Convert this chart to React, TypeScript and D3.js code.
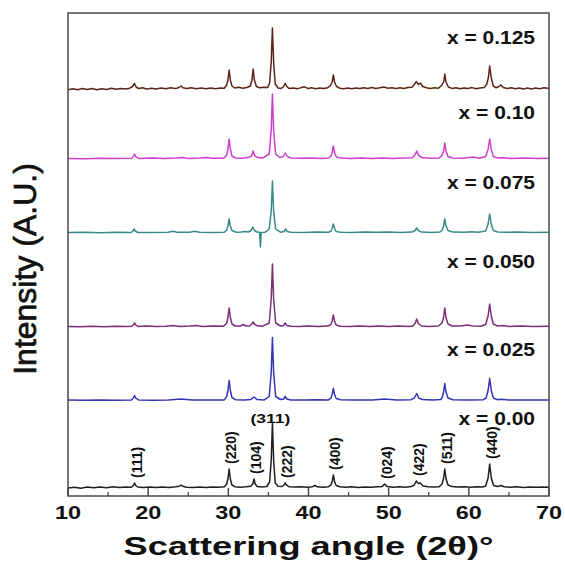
import React from 'react';
import * as d3 from 'd3';

// XRD patterns, x = 0.00 ... 0.125, stacked with an offset (A.U.)
const sampleLabels = ['x = 0.00', 'x = 0.025', 'x = 0.050', 'x = 0.075', 'x = 0.10', 'x = 0.125'];
const sampleColors = ['#1f1f1f', '#3434b6', '#7c2e7b', '#378a87', '#cf3fcf', '#5c2417'];
const sampleOffsets = [8, 95.5, 169, 263, 337, 406];
const labelLevels = [77, 146, 234, 313, 383, 458];

// [2theta, intensity]
const x000: [number, number][] = [[10,0],[10.8,0.8],[11.6,-0.3],[12.4,0.9],[13.2,0.2],[14,1],[14.8,0.3],[15.6,1.2],[16.4,0.4],[17.2,1],[17.9,0.8],[18.15,2.5],[18.3,5],[18.45,2.5],[18.7,1],[19.4,0.5],[20.2,1.1],[21,0.4],[21.8,1],[22.6,0.6],[23.4,1.2],[23.9,1.8],[24.1,3],[24.3,1.8],[24.8,0.8],[25.6,0.4],[26.4,1],[27.2,0.5],[28,1],[28.8,0.8],[29.5,1.2],[29.8,4],[29.95,9],[30.1,19],[30.25,9],[30.45,3],[30.8,1.3],[31.5,0.7],[32.2,1.2],[32.8,1.8],[33.05,4],[33.2,9],[33.35,4],[33.6,1.5],[34.2,1],[34.8,1.5],[35.15,6],[35.35,28],[35.5,65],[35.65,28],[35.85,5],[36.2,1.8],[36.7,1.5],[36.95,3],[37.1,5],[37.25,3],[37.55,1.3],[38.3,1],[39.1,1.2],[39.9,0.8],[40.5,1.3],[40.8,2.5],[41.1,1.2],[41.8,0.8],[42.5,1.3],[42.8,3],[42.95,6.5],[43.1,13],[43.25,6.5],[43.45,2.5],[43.9,1.2],[44.6,0.8],[45.4,1.3],[46.2,0.6],[47,1.1],[47.8,0.7],[48.6,1.2],[49.2,1.6],[49.5,4],[49.8,1.6],[50.5,0.8],[51.3,1.2],[52.1,0.8],[52.8,1.4],[53.2,3],[53.45,7],[53.7,4.5],[53.95,5],[54.3,2],[54.9,1.2],[55.6,1],[56.3,1.3],[56.65,4],[56.85,9.5],[57,19],[57.15,9.5],[57.4,3],[57.9,1.4],[58.6,1],[59.4,1.2],[60.2,0.8],[61,1.3],[61.7,1],[62.1,2],[62.4,10],[62.6,24],[62.8,10],[63.1,2.5],[63.6,1.5],[64,2.5],[64.4,1.2],[65.2,0.8],[66,1.2],[66.8,0.6],[67.6,1.1],[68.4,0.7],[69.2,1],[70,0.8]];

const x025: [number, number][] = [[10,0.5],[12,0.2],[14,0.6],[16,0.3],[17.9,0.5],[18.15,2.5],[18.3,5],[18.45,2.5],[18.8,0.6],[20.5,0.3],[22.5,0.6],[24.1,1.5],[25.5,0.4],[27.5,0.6],[29.5,0.6],[29.8,4],[29.95,10],[30.1,20],[30.25,10],[30.45,3],[30.9,0.8],[32,0.5],[32.8,0.9],[33.2,3.5],[33.6,0.9],[34.5,0.6],[35.1,4],[35.35,28],[35.5,63],[35.65,28],[35.9,4],[36.5,1],[36.9,1.5],[37.1,4],[37.3,1.5],[37.8,0.6],[39.5,0.5],[41,0.8],[42.5,0.6],[42.8,2.5],[42.95,6],[43.1,12],[43.25,6],[43.45,2],[44,0.7],[46,0.4],[48,0.6],[49.5,1.5],[51,0.5],[52.8,0.8],[53.2,2.5],[53.5,7],[53.75,2.5],[54.2,1],[55.5,0.5],[56.5,1],[56.7,3.5],[56.85,8.5],[57,17],[57.15,8.5],[57.4,2.5],[58,0.8],[60,0.5],[61.8,0.8],[62.15,2.5],[62.4,10],[62.6,22],[62.8,10],[63.05,2.5],[63.6,0.8],[64,1.2],[65,0.5],[67,0.6],[70,0.4]];

const x050: [number, number][] = [[10,0.6],[11.5,0.2],[13,0.8],[14.5,0.3],[16,0.7],[17.3,0.4],[17.95,0.8],[18.15,2],[18.3,4],[18.45,2],[18.7,0.6],[19.8,0.9],[21,0.4],[22.2,0.8],[23.1,1.5],[24,0.6],[25.2,1],[26,1.6],[26.8,0.6],[28,0.9],[29.4,0.7],[29.8,4],[29.95,9.5],[30.1,19],[30.25,9.5],[30.45,3],[30.9,1],[31.5,0.9],[31.85,2.5],[32.2,1],[32.7,1.2],[32.95,3],[33.1,5],[33.25,3],[33.6,1.2],[34.3,0.8],[35.1,4],[35.35,28],[35.5,63],[35.65,28],[35.9,4],[36.5,1],[36.9,1.6],[37.1,4],[37.3,1.6],[37.8,0.8],[38.8,0.5],[40,0.9],[41.2,0.6],[42.4,0.9],[42.8,2.5],[42.95,6],[43.1,12],[43.25,6],[43.45,2],[44,0.8],[45.2,0.5],[46.4,0.9],[47.6,0.5],[48.8,0.9],[50,0.6],[51.2,0.9],[52.4,0.5],[53,1],[53.3,3.5],[53.5,8],[53.7,3.5],[54.1,1],[55,0.6],[56.2,1],[56.65,4],[56.85,9.5],[57,19],[57.15,9.5],[57.4,3],[57.9,1],[59,0.9],[59.8,2],[60.5,1],[61.5,0.8],[62.1,2.5],[62.4,11],[62.6,23],[62.8,11],[63.05,3],[63.6,1],[64.2,1.4],[65,0.6],[66.5,0.9],[68,0.5],[70,0.8]];

const x075: [number, number][] = [[10,0.5],[12,0.8],[14,0.3],[16,0.7],[17.9,0.6],[18.1,2],[18.25,4],[18.4,2],[18.7,0.5],[20.5,0.6],[22.5,0.8],[23.1,1.8],[23.6,0.7],[25.2,0.8],[25.8,1.8],[26.4,0.7],[28,0.6],[29.5,0.7],[29.8,3],[29.95,7],[30.1,14],[30.25,7],[30.45,2.5],[31,0.8],[31.6,1],[32.1,1.6],[32.5,1],[32.85,2.5],[33.05,6],[33.25,2.5],[33.6,1],[33.9,0.8],[34,-14],[34.1,0.5],[34.6,0.8],[35.1,4],[35.35,22],[35.5,52],[35.65,22],[35.9,4],[36.5,0.8],[36.95,1.5],[37.15,4],[37.35,1.5],[37.8,0.8],[39.5,0.6],[41,0.9],[42.5,0.7],[42.8,2],[42.95,4.5],[43.1,9],[43.25,4.5],[43.45,1.6],[44,0.8],[45.5,0.6],[47,1],[48.5,0.7],[50,0.9],[51.5,0.6],[52.9,0.9],[53.3,2.5],[53.5,5],[53.7,2.5],[54.1,0.9],[55.3,0.6],[56.4,1],[56.7,3],[56.85,7],[57,14],[57.15,7],[57.4,2.5],[58,0.9],[59.5,0.7],[60.3,1.2],[61.2,0.7],[62.1,2],[62.4,9],[62.6,19],[62.8,9],[63.05,2.5],[63.6,1],[64.5,0.7],[66,0.9],[68,0.6],[70,0.8]];

const x100: [number, number][] = [[10,0.6],[12,0.3],[14,0.8],[16,0.4],[17.9,0.7],[18.15,2.5],[18.3,5],[18.45,2.5],[18.8,0.6],[20.5,0.9],[22,0.4],[23.5,0.9],[24.3,1.5],[25,0.6],[26.5,1],[27.3,1.6],[28,0.7],[29.4,0.8],[29.8,4],[29.95,10],[30.1,20],[30.25,10],[30.45,3],[30.9,1],[31.7,0.8],[32.4,1.4],[32.9,3],[33.1,8],[33.3,3],[33.7,1.4],[34.3,1],[35.1,5],[35.35,29],[35.5,65],[35.65,29],[35.9,5],[36.4,1.5],[36.85,2.5],[37.1,6],[37.35,2.5],[37.8,1],[39,0.7],[40.3,1],[41.6,0.6],[42.5,1],[42.8,3],[42.95,6.5],[43.1,13],[43.25,6.5],[43.45,2.2],[44,0.9],[45.3,0.6],[46.6,1],[47.9,0.6],[49.2,0.9],[50.5,0.6],[51.8,1],[52.9,1.2],[53.25,3.5],[53.5,8],[53.75,3.5],[54.2,1.2],[55.3,0.7],[56.3,1.1],[56.65,3.5],[56.85,8],[57,16],[57.15,8],[57.4,2.5],[58,1],[59.3,0.8],[60.5,2],[61.3,0.8],[62.1,2.5],[62.4,9.5],[62.6,20],[62.8,9.5],[63.05,2.5],[63.6,1],[64.3,1.2],[65.2,0.6],[67,0.9],[68.5,0.5],[70,0.8]];

const x125: [number, number][] = [[10,0.3],[10.6,1.2],[11.2,0.2],[11.8,1.4],[12.4,0.5],[13,1.5],[13.6,0.3],[14.2,1.2],[14.8,0.6],[15.4,1.8],[16,0.7],[16.6,1.5],[17.2,0.9],[17.7,1.8],[18.05,3.5],[18.3,6.5],[18.5,3],[18.8,1.5],[19.3,2.2],[19.8,1],[20.4,1.8],[21,1],[21.6,2],[22.2,1.2],[22.8,2.3],[23.4,1.4],[23.85,2.5],[24.1,4],[24.35,2.2],[24.8,1.5],[25.4,2.3],[26,1.2],[26.6,2],[27.2,1.3],[27.8,2.1],[28.4,1.2],[29,1.9],[29.5,1.8],[29.8,5],[29.95,10],[30.1,20],[30.25,10],[30.45,4],[30.8,2],[31.3,2.8],[31.8,1.8],[32.3,2.5],[32.75,4],[32.95,10],[33.1,21],[33.25,10],[33.5,3.5],[33.9,2.2],[34.4,2.8],[34.9,2.4],[35.15,7],[35.35,28],[35.5,62],[35.65,28],[35.85,6],[36.2,2],[36.6,1.6],[36.9,3.5],[37.1,6.5],[37.3,3.5],[37.6,1.4],[38.1,2],[38.6,1.2],[39.1,2.4],[39.5,3.2],[39.9,1.6],[40.4,2.2],[40.9,1.3],[41.4,2],[41.9,1.5],[42.4,2.3],[42.75,4.5],[42.95,8],[43.1,15],[43.25,8],[43.5,3.5],[43.9,1.8],[44.4,1.2],[44.9,2],[45.4,1.2],[45.9,1.9],[46.4,1.4],[46.9,2.2],[47.4,1.5],[47.9,2.4],[48.4,1.6],[48.9,2.2],[49.4,3],[49.9,1.8],[50.4,2.3],[50.9,1.5],[51.4,2.2],[51.9,1.6],[52.4,2.5],[52.9,2.8],[53.2,5.5],[53.45,8.5],[53.7,5.5],[53.95,7],[54.25,3.5],[54.7,2.2],[55.2,1.5],[55.7,2.3],[56.2,1.8],[56.6,4.5],[56.85,8],[57,16],[57.15,8],[57.45,3],[57.9,1.6],[58.4,2.2],[58.9,1.3],[59.4,2],[59.9,1.4],[60.4,2.4],[60.9,1.3],[61.4,2],[61.9,2.4],[62.25,6],[62.45,13],[62.6,24],[62.8,12],[63.05,4],[63.4,2.2],[63.75,3.5],[64,5],[64.3,2.5],[64.8,1.5],[65.3,2.3],[65.8,1.2],[66.3,2],[66.8,1],[67.3,1.9],[67.8,1.1],[68.3,2],[68.8,1.3],[69.4,2.2],[70,1.4]];

const patterns = [x000, x025, x050, x075, x100, x125];

// Miller indices of the reflections marked on the x = 0.00 pattern
const hklNames = ['(111)', '(220)', '(104)', '(311)', '(222)', '(400)', '(024)', '(422)', '(511)', '(440)'];
const hklAngles = [18.3, 30.1, 33.2, 35.5, 37.1, 43.1, 49.5, 53.5, 57.0, 62.6];

const xTicks = [10, 20, 30, 40, 50, 60, 70];

const W = 565;
const H = 561;
const margin = { top: 13, right: 16, bottom: 65, left: 68 };
const font = 'Liberation Sans, Arial, sans-serif';

export default function App() {
  const innerW = W - margin.left - margin.right;
  const innerH = H - margin.top - margin.bottom;

  const x = d3.scaleLinear().domain([10, 70]).range([margin.left, margin.left + innerW]);
  const y = d3.scaleLinear().domain([0, 483]).range([margin.top + innerH, margin.top]);

  const minorTicks = x.ticks(12).filter((t) => t % 10 !== 0);
  const bottom = margin.top + innerH;

  const peakAt = (a: number) =>
    d3.max(x000.filter((d) => Math.abs(d[0] - a) < 0.3), (d) => d[1]) || 0;

  return (
    <svg width={W} height={H} style={{ position: 'absolute', left: 0, top: 0, background: '#fff' }}>
      <g fill="none" strokeWidth={1.5} strokeLinejoin="round">
        {patterns.map((p, i) => {
          const line = d3.line<[number, number]>()
            .x((d) => x(d[0]))
            .y((d) => y(d[1] + sampleOffsets[i]));
          return <path key={i} d={line(p) || ''} stroke={sampleColors[i]} />;
        })}
      </g>

      {/* frame */}
      <rect x={margin.left} y={margin.top} width={innerW} height={innerH}
        fill="none" stroke="#4a4a4a" strokeWidth={1.5} />

      {/* ticks pointing inwards */}
      {xTicks.map((t) => (
        <line key={'M' + t} x1={x(t)} x2={x(t)} y1={bottom} y2={bottom - 8} stroke="#4a4a4a" strokeWidth={1.5} />
      ))}
      {minorTicks.map((t) => (
        <line key={'m' + t} x1={x(t)} x2={x(t)} y1={bottom} y2={bottom - 4} stroke="#4a4a4a" strokeWidth={1.3} />
      ))}

      <g fontFamily={font} fontWeight="bold" fontSize={17.5} fill="#111" textAnchor="middle">
        {xTicks.map((t) => (
          <text key={t} transform={`translate(${x(t)},${519}) scale(1.34,1)`}>{t}</text>
        ))}
      </g>

      <text transform={`translate(${(x(10) + x(70)) / 2},555) scale(1.42,1)`} textAnchor="middle"
        fontFamily={font} fontWeight="bold" fontSize={25.5} fill="#111">
        Scattering angle (2θ)°
      </text>

      <text transform="translate(35.5,269) rotate(-90)" textAnchor="middle"
        fontFamily={font} fontSize={32} fill="#111" stroke="#111" strokeWidth={0.7}>
        Intensity (A.U.)
      </text>

      <g fontFamily={font} fontWeight="bold" fontSize={17.5} fill="#111" textAnchor="end">
        {sampleLabels.map((s, i) => (
          <text key={s} transform={`translate(535,${y(labelLevels[i]) + 6.3}) scale(1.2,1)`}>{s}</text>
        ))}
      </g>

      <g fontFamily={font} fontWeight="bold" fill="#111">
        {hklNames.map((h, i) => {
          const a = hklAngles[i];
          const top = y(peakAt(a) + sampleOffsets[0]);
          if (h === '(311)') {
            return (
              <text key={h} transform={`translate(${x(a) - 2},${top - 0.5}) scale(1.35,1)`}
                textAnchor="middle" fontSize={13}>{h}</text>
            );
          }
          return (
            <text key={h} transform={`translate(${x(a) + 7},${top - 5}) rotate(-90)`}
              textAnchor="start" fontSize={14}>{h}</text>
          );
        })}
      </g>
    </svg>
  );
}
